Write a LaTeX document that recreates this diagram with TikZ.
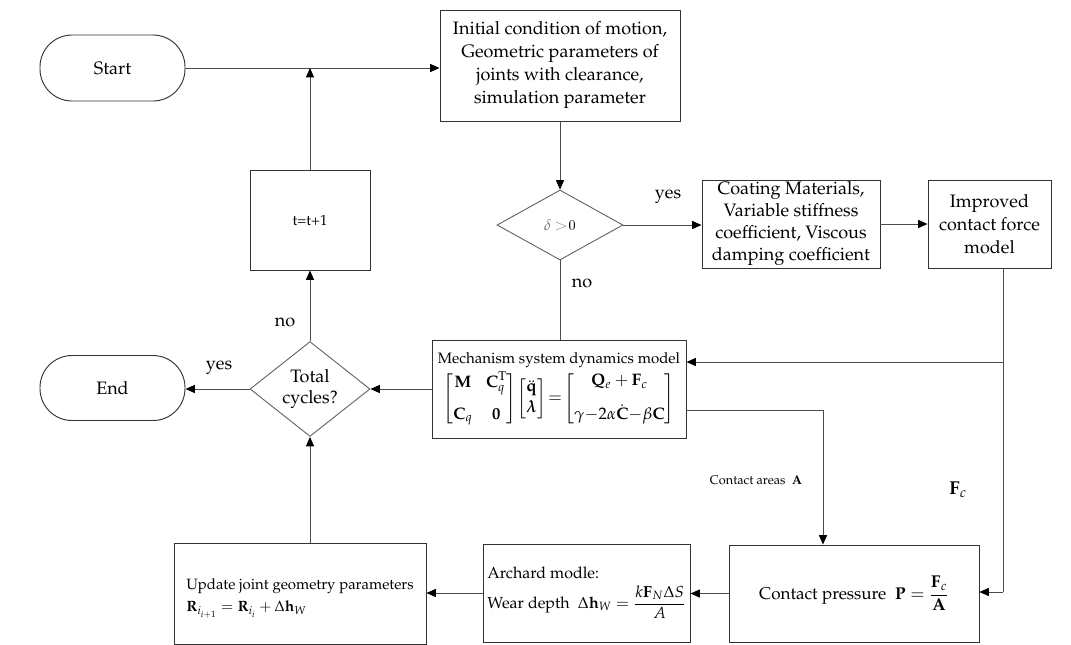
\documentclass[tikz,border=0pt]{standalone}
\usepackage[T1]{fontenc}
\usepackage{mathpazo}
\usepackage{amsmath}
\usetikzlibrary{arrows.meta,shapes.geometric}
\begin{document}
\begin{tikzpicture}[x=0.75pt,y=-0.75pt,
  ln/.style={draw=black!70, line width=0.7pt},
  arr/.style={ln, -{Triangle[length=7pt,width=6pt,color=black]}},
  box/.style={draw=black!80, line width=0.7pt, rectangle, align=center, inner sep=0pt, font=\fontsize{13.5}{17.25}\selectfont},
  term/.style={box, rounded corners=24pt},
  dia/.style={draw=black!60, line width=0.7pt, diamond, inner sep=0pt, align=center, font=\fontsize{13.5}{16}\selectfont},
  lbl/.style={inner sep=0pt, font=\fontsize{13.5}{15}\selectfont}
]
\useasboundingbox (0,0) rectangle (1071,644);
% nodes
\node[term, minimum width=108.75pt, minimum height=49.5pt] (start) at (112.5,68) {Start};
\node[box, minimum width=180pt, minimum height=83.25pt] (init) at (560,65.5)
  {Initial condition of motion,\\Geometric parameters of\\joints with clearance,\\simulation parameter};
\node[dia, minimum width=94.5pt, minimum height=52.5pt] (d1) at (560,225)
  {{\color{black!55}\fontsize{11.5}{13}\selectfont$\delta$}\ {\fontsize{11.5}{13}\selectfont\sffamily >0}};
\node[box, minimum width=133.5pt, minimum height=66pt, font=\fontsize{13.5}{16.5}\selectfont] (coat) at (791,224)
  {Coating Materials,\\Variable stiffness\\coefficient, Viscous\\damping coefficient};
\node[box, minimum width=92.25pt, minimum height=66pt] (impr) at (989.5,224)
  {Improved\\contact force\\model};
\node[box, minimum width=190.5pt, minimum height=73.5pt, font=\fontsize{11.3}{13}\selectfont] (mech) at (559,389)
  {Mechanism system dynamics model\\[2pt]
   {\fontsize{12.5}{14}\selectfont
   $\begin{bmatrix}\mathbf{M} & \mathbf{C}_q^{\mathrm{T}}\\[10pt] \mathbf{C}_q & \mathbf{0}\end{bmatrix}
    \!\begin{bmatrix}\ddot{\mathbf{q}}\\[2pt] \boldsymbol{\lambda}\end{bmatrix}
    \!=\!\begin{bmatrix}\mathbf{Q}_e+\mathbf{F}_c\\[10pt] \gamma{-}2\alpha\dot{\mathbf{C}}{-}\beta\mathbf{C}\end{bmatrix}$}};
\node[dia, minimum width=90pt, minimum height=51pt] (tc) at (310,389) {Total\\cycles?};
\node[box, minimum width=90pt, minimum height=75pt, font=\fontsize{11}{13}\selectfont] (tbox) at (310,220) {t=t+1};
\node[term, minimum width=108.75pt, minimum height=48.75pt] (endn) at (112.5,388) {End};
\node[box, minimum width=189pt, minimum height=75.75pt, align=left, font=\fontsize{11.2}{17}\selectfont] (upd) at (300,593.5)
  {\rule{0pt}{15pt}Update joint geometry parameters\\
   $\mathbf{R}_{i_{i+1}}=\mathbf{R}_{i_i}+\Delta\mathbf{h}_W$};
\node[box, minimum width=155.25pt, minimum height=73.5pt, align=left, font=\fontsize{12}{14}\selectfont] (arch) at (586.5,593)
  {Archard modle:\\[4pt]
   Wear depth\ \ $\Delta\mathbf{h}_W=\dfrac{k\mathbf{F}_N\Delta S}{A}$};
\node[box, minimum width=187.5pt, minimum height=72.75pt, font=\fontsize{12.8}{14}\selectfont] (cp) at (854,593.5)
  {Contact pressure\ \ $\mathbf{P}=\dfrac{\mathbf{F}_c}{\mathbf{A}}$};
% labels
\node[lbl] (ly1) at (668,197) {yes};
\node[lbl] (ln1) at (582,283) {no};
\node[lbl] (ln2) at (285,322) {no};
\node[lbl] (ly2) at (219,368) {yes};
\node[lbl, font=\fontsize{9.5}{12}\selectfont] (lca) at (756,480) {Contact areas\ \ $\mathbf{A}$};
\node[lbl, font=\fontsize{14}{16}\selectfont] (lfc) at (958,490) {$\mathbf{F}_c$};
% coordinates
\coordinate (top) at (310,68);
\coordinate (j1) at (1003,362);
\coordinate (j2) at (1003,592);
\coordinate (k) at (823,410);
% connectors
\draw[arr] (start.east) -- (start.east -| init.west);
\draw[arr] (tbox.north) -- (top);
\draw[arr] (init.south) -- (d1.north);
\draw[arr] (d1.east) -- (coat.west |- d1.east);
\draw[arr] (coat) -- (impr);
\draw[ln] (d1.south) -- (mech.north -| d1.south);
\draw[ln] (impr.south -| j1) -- (j2);
\draw[arr] (j2) -- (cp.east |- j2);
\draw[arr] (j1) -- (mech.east |- j1);
\draw[arr] (mech.east |- k) -- (k) -- (cp.north -| k);
\draw[arr] (cp.west) -- (arch.east |- cp.west);
\draw[arr] (arch.west) -- (upd.east |- arch.west);
\draw[arr] (upd.north -| tc.south) -- (tc.south);
\draw[arr] (mech.west |- tc.east) -- (tc.east);
\draw[arr] (tc.west) -- (endn.east |- tc.west);
\draw[arr] (tc.north) -- (tbox.south);
\end{tikzpicture}
\end{document}
